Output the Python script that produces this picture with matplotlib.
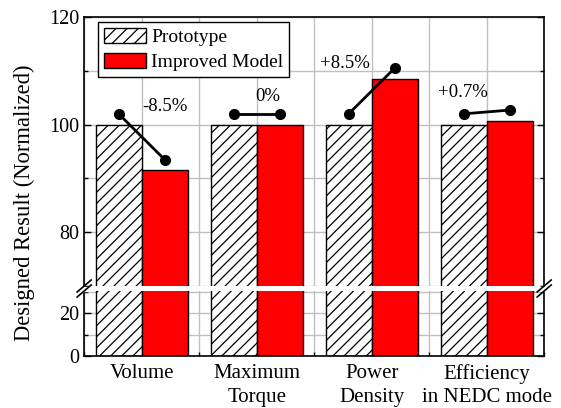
import numpy as np
import matplotlib.pyplot as plt
from matplotlib.ticker import MultipleLocator

plt.rcParams['font.family'] = ['Liberation Serif', 'DejaVu Serif']
plt.rcParams['hatch.linewidth'] = 0.9

categories = ['Volume', 'Maximum\nTorque', 'Power\nDensity', 'Efficiency\nin NEDC mode']
prototype = [100, 100, 100, 100]
improved = [91.5, 100, 108.5, 100.7]
changes = ['-8.5%', '0%', '+8.5%', '+0.7%']

# where each percentage label sits relative to its category centre
label_dx = [0.2, 0.1, -0.23, -0.21]
label_y = [103.3, 105.3, 111.4, 106.0]

x = np.arange(1, len(categories) + 1)
w = 0.4
grid_c = '#c0c0c0'

fig = plt.figure(figsize=(5.61, 4.08), dpi=100)
ax_top = fig.add_axes([0.150, 1 - 286/408, 0.820, (286 - 17)/408])
ax_bot = fig.add_axes([0.150, 1 - 356/408, 0.820, (356 - 291)/408], sharex=ax_top)

bars = []
for ax in (ax_top, ax_bot):
    ax.set_axisbelow(True)
    b1 = ax.bar(x - w/2, prototype, w, color='white', edgecolor='black', hatch='///', lw=1, zorder=2)
    b2 = ax.bar(x + w/2, improved, w, color='#ff0000', edgecolor='black', lw=1, zorder=2)
    bars = [b1, b2]
    ax.set_xlim(0.5, 4.5)
    ax.xaxis.set_minor_locator(MultipleLocator(0.5))
    ax.grid(True, which='both', color=grid_c, lw=1)
    ax.tick_params(which='both', direction='in', right=True, labelsize=14.5, width=1)
    ax.tick_params(which='major', length=5)
    ax.tick_params(which='minor', length=3)
    for s in ax.spines.values():
        s.set_linewidth(1.2)

ax_top.set_ylim(70, 120)
ax_top.yaxis.set_major_locator(MultipleLocator(20))
ax_top.yaxis.set_minor_locator(MultipleLocator(10))
ax_top.spines['bottom'].set_visible(False)
ax_top.tick_params(axis='x', which='both', bottom=False, labelbottom=False)

ax_bot.set_ylim(0, 30.5)
ax_bot.yaxis.set_major_locator(MultipleLocator(20))
ax_bot.yaxis.set_minor_locator(MultipleLocator(10))
ax_bot.spines['top'].set_visible(False)
ax_bot.set_xticks(x)
ax_bot.set_xticklabels(categories, fontsize=15, linespacing=1.3)
ax_bot.tick_params(axis='x', which='major', length=0, pad=6)

# change indicators: dots slightly above each bar pair
for i in range(len(categories)):
    ax_top.plot([x[i] - w/2, x[i] + w/2], [prototype[i] + 2, improved[i] + 2],
                color='black', lw=2, marker='o', ms=7, zorder=4)
    ax_top.text(x[i] + label_dx[i], label_y[i], changes[i], fontsize=13.5,
                ha='center', va='center', zorder=5)

ax_top.legend(bars, ['Prototype', 'Improved Model'], loc='upper left', fontsize=14,
              fancybox=False, edgecolor='black', framealpha=1, borderpad=0.3,
              handlelength=2.15, handleheight=0.85, labelspacing=0.35, handletextpad=0.3,
              borderaxespad=0, bbox_to_anchor=(0.03, 0.982))

# break marks across the gap on both spines
yb = 1 - 288.5/408
for xs in (0.150, 0.970):
    fig.add_artist(plt.Rectangle((xs - 6/561, yb - 2/408), 12/561, 4/408,
                                 color='white', zorder=3))
    for dy in (-2.5/408, 2.5/408):
        fig.add_artist(plt.Line2D([xs - 7/561, xs + 7/561], [yb + dy - 6/408, yb + dy + 6/408],
                                  color='black', lw=1.2, zorder=4))

fig.text(0.043, 0.502, 'Designed Result (Normalized)', rotation=90,
         ha='center', va='center', fontsize=16.3)

fig.savefig('out.png', dpi=100)
